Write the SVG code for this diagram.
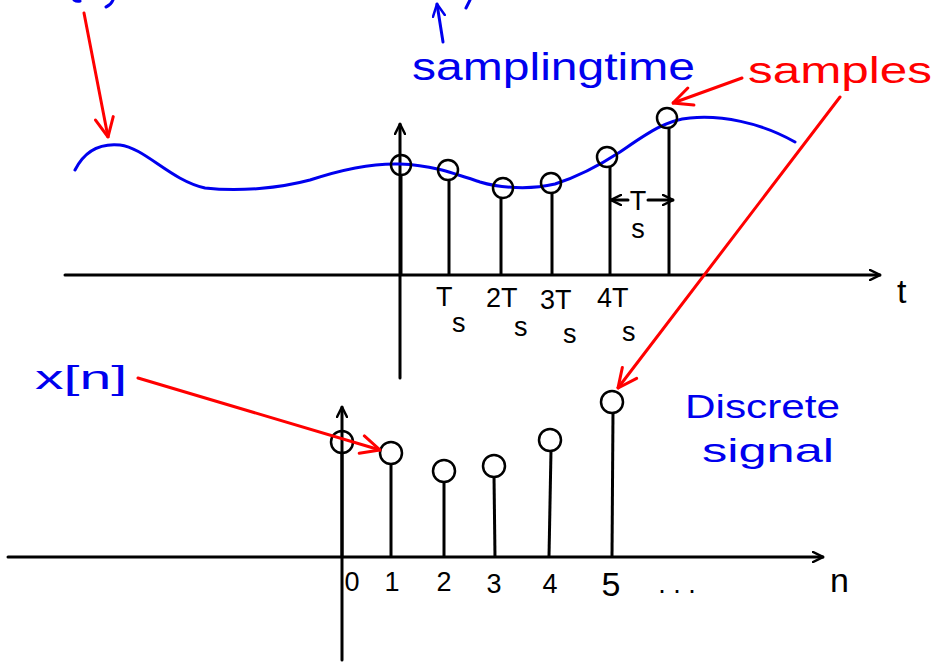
<svg xmlns="http://www.w3.org/2000/svg" width="934" height="662" viewBox="0 0 934 662">
<style>
.ax{stroke:#000;stroke-width:3;fill:none;stroke-linecap:round;stroke-linejoin:round}
.st{stroke:#000;stroke-width:3;fill:none}
.ci{stroke:#000;stroke-width:2.5;fill:none}
.bl{stroke:#0000ee;stroke-width:3;fill:none;stroke-linecap:round;stroke-linejoin:round}
.rd{stroke:#ff0000;stroke-width:3;fill:none;stroke-linecap:round;stroke-linejoin:round}
.tk{font-family:"Liberation Sans",Arial,sans-serif;font-size:27px;fill:#000}
.big{font-size:34px}
.bt{font-family:"Liberation Sans",Arial,sans-serif;font-size:38px;fill:#0000ee}
.bt2{font-size:34px}
.rt{font-family:"Liberation Sans",Arial,sans-serif;font-size:36px;fill:#ff0000}
</style>
<defs>
<marker id="ah" viewBox="0 0 12 12" refX="11" refY="6" markerWidth="12" markerHeight="12" markerUnits="userSpaceOnUse" orient="auto">
<polyline points="1,1 11,6 1,11" fill="none" stroke="#000" stroke-width="2.5" stroke-linecap="round"/>
</marker>
<marker id="ahb" viewBox="0 0 14 14" refX="13" refY="7" markerWidth="14" markerHeight="14" markerUnits="userSpaceOnUse" orient="auto">
<polyline points="1,1 13,7 1,13" fill="none" stroke="#0000ee" stroke-width="2.5" stroke-linecap="round"/>
</marker>
<marker id="ahr" viewBox="0 0 22 22" refX="21" refY="11" markerWidth="22" markerHeight="22" markerUnits="userSpaceOnUse" orient="auto">
<polyline points="2,2 21,11 2,20" fill="none" stroke="#ff0000" stroke-width="3" stroke-linecap="round"/>
</marker>
</defs>
<rect width="934" height="662" fill="#fff"/>

<!-- cut-off fragments at top -->
<g id="top-fragments">
<path class="bl" d="M74,0 Q77,2 80,1"/>
<path class="bl" d="M113,0 Q111,5 106,7"/>
<path class="bl" d="M470,0 L466,8"/>
</g>

<!-- top plot axes -->
<g id="axes-top">
<line class="ax" x1="65" y1="275" x2="880" y2="275" marker-end="url(#ah)"/>
<line class="ax" x1="400" y1="378" x2="400" y2="124" marker-end="url(#ah)"/>
<text class="tk big" x="897" y="303">t</text>
</g>

<!-- continuous signal -->
<g id="signal">
<path class="bl" d="M75,170 C85,150 100,143 120,145 C145,148 170,180 205,188 C240,192 280,188 310,180 C340,170 370,163 400,164 C430,165 450,172 480,182 C500,188 530,190 555,184 C580,176 600,165 620,152 C645,135 665,120 690,118 C720,115 760,122 795,142"/>
</g>

<!-- top samples -->
<g id="sample-t0"><line class="st" x1="401" y1="175" x2="401" y2="275"/><circle class="ci" cx="401" cy="165" r="10"/></g>
<g id="sample-t1"><line class="st" x1="449" y1="180" x2="449" y2="275"/><circle class="ci" cx="448" cy="170" r="10"/></g>
<g id="sample-t2"><line class="st" x1="501" y1="198" x2="501" y2="275"/><circle class="ci" cx="503" cy="188" r="10"/></g>
<g id="sample-t3"><line class="st" x1="552" y1="193" x2="552" y2="275"/><circle class="ci" cx="551" cy="183" r="10"/></g>
<g id="sample-t4"><line class="st" x1="610" y1="167" x2="610" y2="275"/><circle class="ci" cx="607" cy="157" r="10"/></g>
<g id="sample-t5"><line class="st" x1="669" y1="128" x2="669" y2="275"/><circle class="ci" cx="667" cy="118" r="10"/></g>

<!-- tick labels -->
<g id="ticks-top">
<text class="tk" x="436" y="306">T</text><text class="tk" x="452" y="332">s</text>
<text class="tk" x="486" y="307">2T</text><text class="tk" x="514" y="336">s</text>
<text class="tk" x="540" y="309">3T</text><text class="tk" x="563" y="343">s</text>
<text class="tk" x="597" y="307">4T</text><text class="tk" x="622" y="341">s</text>
</g>

<!-- Ts spacing -->
<g id="ts-span">
<line class="ax" x1="628" y1="200" x2="611" y2="200" stroke-width="2.5" marker-end="url(#ah)"/>
<line class="ax" x1="648" y1="200" x2="673" y2="200" stroke-width="2.5" marker-end="url(#ah)"/>
<text class="tk" x="638" y="210" text-anchor="middle">T</text>
<text class="tk" x="638" y="238" text-anchor="middle">s</text>
</g>

<!-- labels -->
<g id="label-sampling-time">
<text class="bt" x="412" y="80" textLength="283" lengthAdjust="spacingAndGlyphs">samplingtime</text>
</g>
<g id="label-samples">
<text class="rt" x="748" y="83" textLength="184" lengthAdjust="spacingAndGlyphs">samples</text>
</g>
<g id="label-xn">
<text class="bt bt2" x="35" y="389" textLength="92" lengthAdjust="spacingAndGlyphs">x[n]</text>
</g>
<g id="label-discrete">
<text class="bt bt2" x="685" y="418" textLength="155" lengthAdjust="spacingAndGlyphs">Discrete</text>
<text class="bt bt2" x="702" y="462" textLength="132" lengthAdjust="spacingAndGlyphs">signal</text>
</g>

<!-- bottom plot axes -->
<g id="axes-bottom">
<line class="ax" x1="8" y1="557" x2="823" y2="557" marker-end="url(#ah)"/>
<line class="ax" x1="342" y1="660" x2="342" y2="407" marker-end="url(#ah)"/>
<text class="tk big" x="830" y="592">n</text>
</g>

<!-- bottom samples -->
<g id="sample-n0"><line class="st" x1="342" y1="453" x2="342" y2="557"/><circle class="ci" cx="342" cy="442" r="11"/></g>
<g id="sample-n1"><line class="st" x1="391" y1="464" x2="391" y2="557"/><circle class="ci" cx="391" cy="453" r="11"/></g>
<g id="sample-n2"><line class="st" x1="444" y1="482" x2="444" y2="557"/><circle class="ci" cx="444" cy="471" r="11"/></g>
<g id="sample-n3"><line class="st" x1="494" y1="476" x2="495" y2="557"/><circle class="ci" cx="494" cy="466" r="11"/></g>
<g id="sample-n4"><line class="st" x1="551" y1="450" x2="549" y2="557"/><circle class="ci" cx="550" cy="440" r="11"/></g>
<g id="sample-n5"><line class="st" x1="613" y1="412" x2="612" y2="557"/><circle class="ci" cx="612" cy="402" r="11"/></g>

<g id="ticks-bottom">
<text class="tk" x="352" y="591" text-anchor="middle">0</text>
<text class="tk" x="392" y="591" text-anchor="middle">1</text>
<text class="tk" x="444" y="591" text-anchor="middle">2</text>
<text class="tk" x="494" y="593" text-anchor="middle">3</text>
<text class="tk" x="550" y="593" text-anchor="middle">4</text>
<text class="tk big" x="611" y="596" text-anchor="middle">5</text>
<text class="tk" x="677" y="593" text-anchor="middle">. . .</text>
</g>

<!-- connectors -->
<g id="connectors">
<line class="bl" x1="443" y1="42" x2="437" y2="4" marker-end="url(#ahb)"/>
<line class="rd" x1="84" y1="13" x2="108" y2="137" marker-end="url(#ahr)"/>
<line class="rd" x1="742" y1="78" x2="673" y2="103" marker-end="url(#ahr)"/>
<line class="rd" x1="840" y1="97" x2="618" y2="388" marker-end="url(#ahr)"/>
<line class="rd" x1="138" y1="378" x2="380" y2="450" marker-end="url(#ahr)"/>
</g>
</svg>
